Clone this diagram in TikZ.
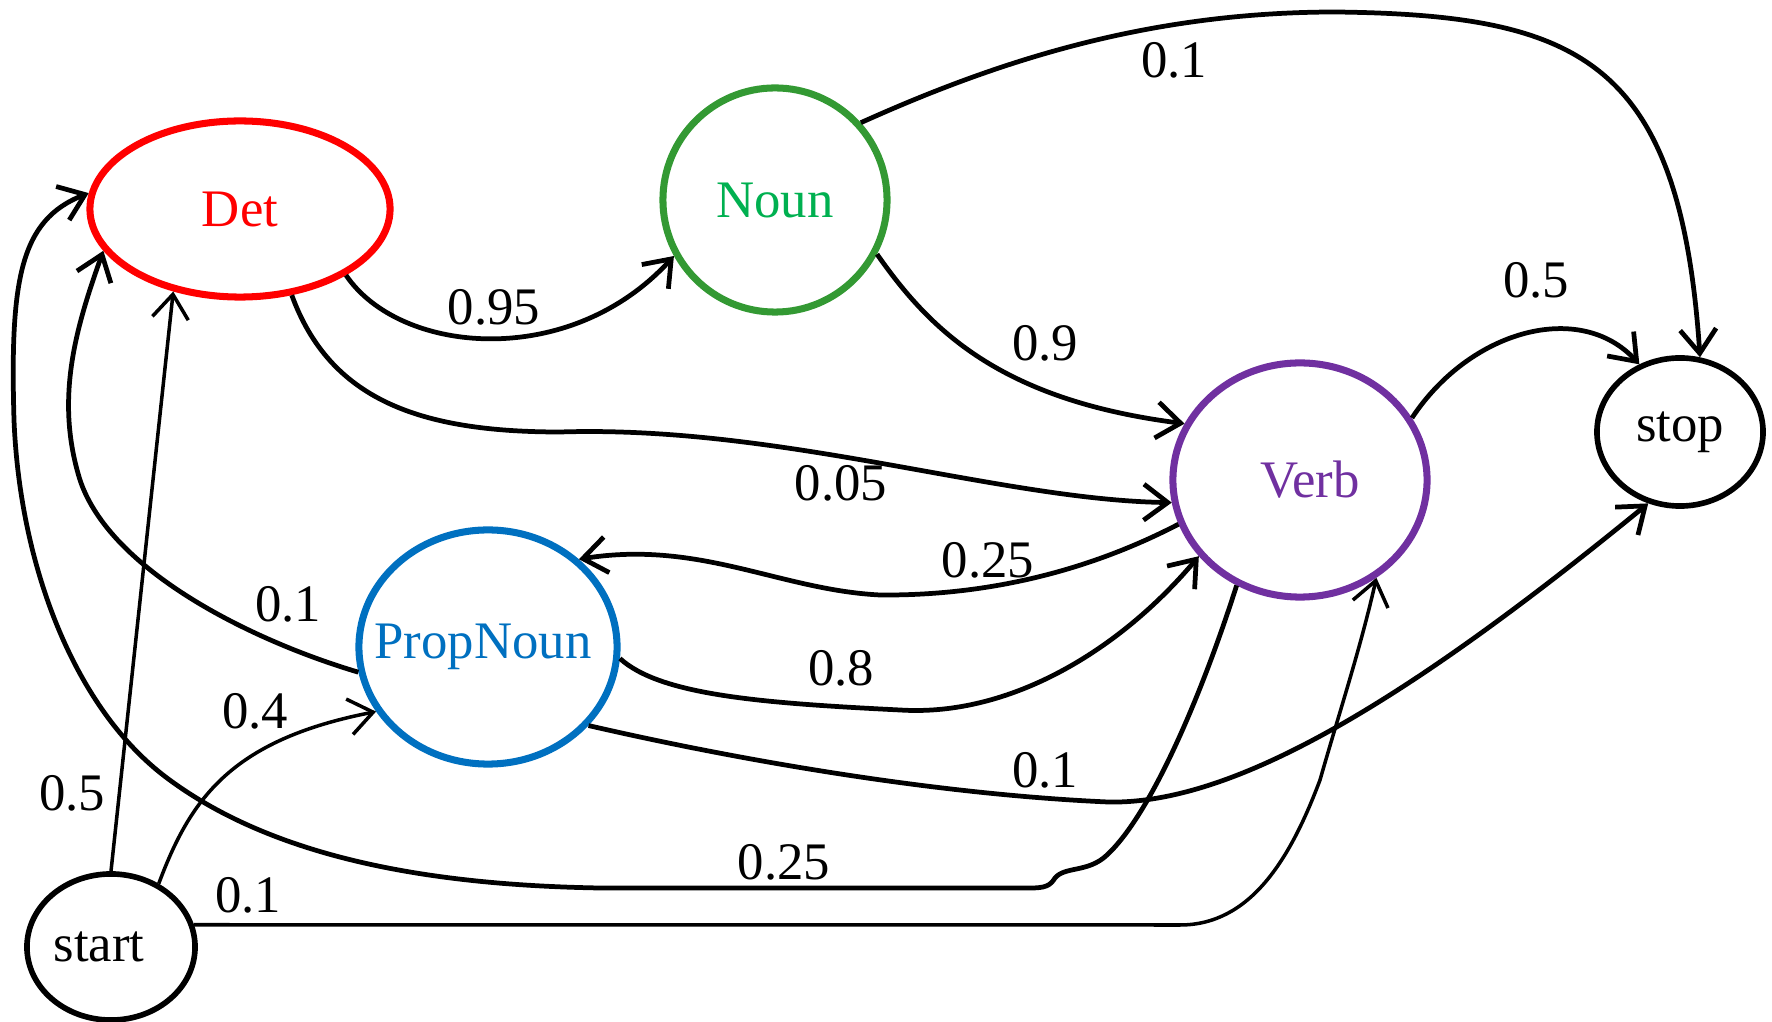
\documentclass[tikz,border=0pt]{standalone}
\usepackage{fontspec}
\setmainfont{Liberation Serif}
\usepackage{tikz}
\usetikzlibrary{shapes.geometric}
\usetikzlibrary{arrows.meta}
\usetikzlibrary{scopes}
\definecolor{detred}{RGB}{255,0,0}
\definecolor{nounline}{RGB}{51,153,51}
\definecolor{nountext}{RGB}{0,176,80}
\definecolor{verbpurple}{RGB}{112,48,160}
\definecolor{propblue}{RGB}{0,112,192}
\tikzset{state/.style={ draw=#1, text=#1, ellipse, line width=2pt, inner sep=0pt,
            font=\fontsize{15}{18}\selectfont },
         prob/.style={ inner sep=0pt, font=\fontsize{15}{18}\selectfont },
         trans/.style={ ->, line width=1.35pt },
         thintrans/.style={ ->, line width=1pt }}

\begin{document}
\begin{tikzpicture}[x=0.01cm, y=-0.01cm, >={Straight Barb[length=2.4mm,width=3.6mm]}]
\useasboundingbox (0,0) rectangle (1772,1022);
\node [state=detred, minimum width=3cm, minimum height=1.76cm] (Det) at (240,209) {Det};
\node [state=nounline, text=nountext, minimum width=2.24cm, minimum height=2.24cm] (Noun) at (775,200) {Noun};
\node [state=verbpurple, minimum width=2.54cm, minimum height=2.34cm] (Verb) at (1300,480) {\makebox[0pt]{\hspace{0.2cm}Verb}};
\node [state=black, line width=1.6pt, minimum width=1.66cm, minimum height=1.48cm] (stop) at (1680,432) {stop};
\node [state=propblue, minimum width=2.58cm, minimum height=2.34cm] (PropNoun) at (488,647) {\makebox[0pt]{PropNoun\hspace{0.1cm}}};
\node [state=black, line width=1.6pt, minimum width=1.68cm, minimum height=1.46cm] (start) at (111,947) {\makebox[0pt]{start\hspace{0.24cm}}};
%
\draw [trans] (Det.-32) .. controls (400,355) and (570,370) .. (Noun.-151);
\draw [trans] (Det.-59) .. controls (330,400) and (420,432) .. (560,432)
    .. controls (780,425) and (1000,500) .. (Verb.-170);
\draw [trans] (Noun.42) .. controls (1000,60) and (1150,12) .. (1336,12)
    .. controls (1580,15) and (1680,60) .. (stop.75);
\draw [trans] (Noun.-28) .. controls (930,330) and (1000,400) .. (Verb.154);
\draw [trans] (Verb.29) .. controls (1470,330) and (1580,300) .. (stop.121);
\draw [trans] (Verb.-160) .. controls (1100,565) and (1000,596) .. (880,595)
    .. controls (780,590) and (700,540) .. (PropNoun.44);
\draw [trans] (PropNoun.-5) .. controls (660,695) and (760,703) .. (900,710)
    .. controls (1010,717) and (1120,650) .. (Verb.-143);
\draw [trans] (PropNoun.-38) .. controls (760,765) and (950,795) .. (1108,802)
    .. controls (1240,805) and (1420,690) .. (stop.-114);
\draw [trans] (PropNoun.-169) .. controls (250,640) and (110,570) .. (80,480)
    .. controls (55,400) and (75,330) .. (Det.-163);
\draw [trans] (Verb.-121) .. controls (1200,700) and (1150,815) .. (1107,855)
    .. controls (1088,873) and (1065,866) .. (1055,878)
    .. controls (1050,886) and (1045,888) .. (1030,888) -- (600,888)
    .. controls (420,885) and (270,855) .. (167,778)
    .. controls (77,711) and (20,570) .. (14,420)
    .. controls (10,280) and (20,220) .. (Det.174);
%
{ [thintrans]
\draw (start.north) -- (Det.-129);
\draw (start.53) .. controls (190,800) and (230,740) .. (PropNoun.-150);
\draw (start.15) -- (1180,925) .. controls (1250,925) and (1290,860) .. (1320,780)
    .. controls (1340,710) and (1360,650) .. (Verb.-52);
}
%
\node [prob] (pDetNoun) at (494,307) {0.95};
\node [prob] (pDetVerb) at (841,483) {0.05};
\node [prob] (pNounStop) at (1174,60) {0.1};
\node [prob] (pNounVerb) at (1045,343) {0.9};
\node [prob] (pVerbStop) at (1536,280) {0.5};
\node [prob] (pVerbProp) at (988,560) {0.25};
\node [prob] (pPropVerb) at (841,668) {0.8};
\node [prob] (pPropStop) at (1045,770) {0.1};
\node [prob] (pPropDet) at (288,604) {0.1};
\node [prob] (pStartDet) at (72,793) {0.5};
\node [prob] (pStartProp) at (255,711) {0.4};
\node [prob] (pVerbDet) at (784,862) {0.25};
\node [prob] (pStartVerb) at (248,895) {0.1};
\end{tikzpicture}
\end{document}
